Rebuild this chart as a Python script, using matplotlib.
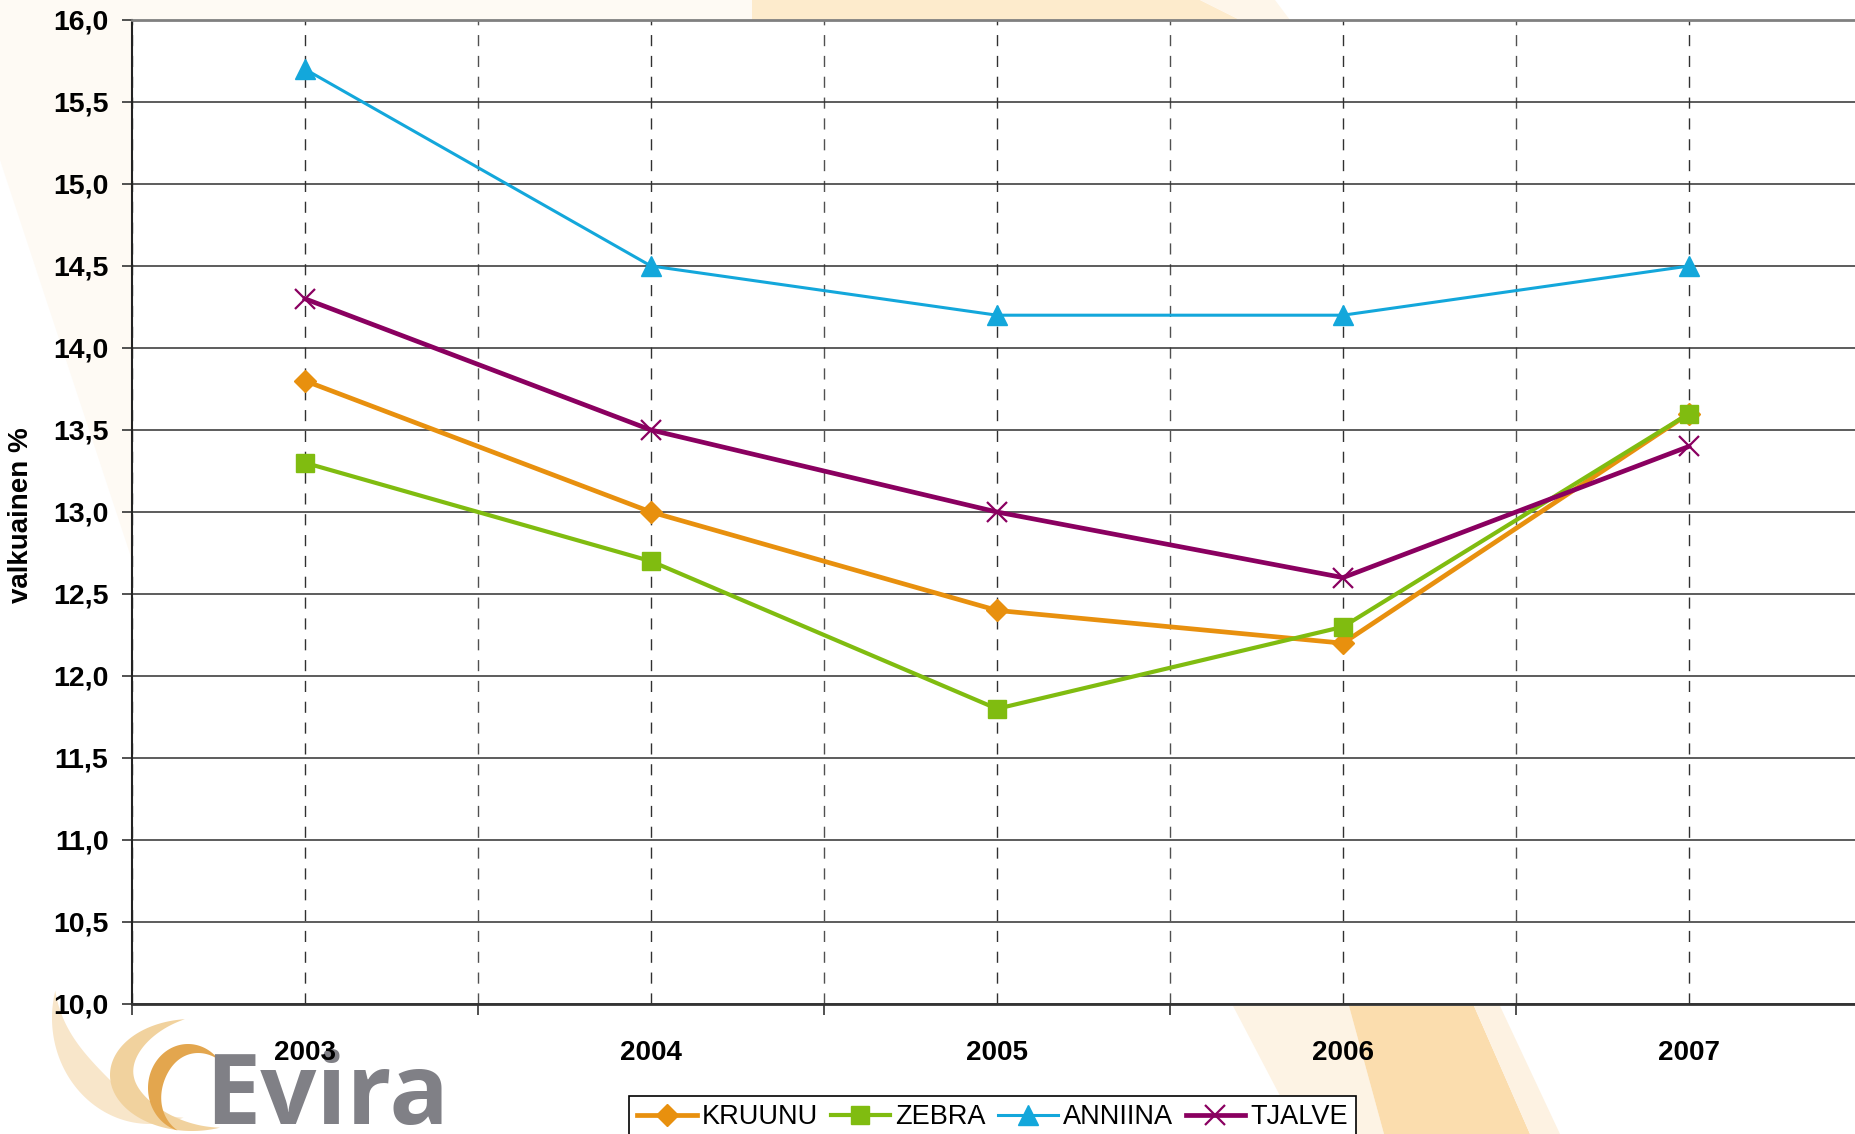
import numpy as np
import matplotlib
matplotlib.use("Agg")
import matplotlib.pyplot as plt
from matplotlib.patches import Polygon
from matplotlib.ticker import FixedLocator, FuncFormatter

plt.rcParams['font.family'] = ['Liberation Sans', 'DejaVu Sans']

# ---- data ----
years = ["2003", "2004", "2005", "2006", "2007"]
kruunu = [13.8, 13.0, 12.4, 12.2, 13.6]
zebra = [13.3, 12.7, 11.8, 12.3, 13.6]
anniina = [15.7, 14.5, 14.2, 14.2, 14.5]
tjalve = [14.3, 13.5, 13.0, 12.6, 13.4]
series_names = ["KRUUNU", "ZEBRA", "ANNIINA", "TJALVE"]
y_label = "valkuainen %"
y_ticks = [10.0, 10.5, 11.0, 11.5, 12.0, 12.5, 13.0, 13.5, 14.0, 14.5, 15.0, 15.5, 16.0]

W, H = 1856, 1134
fig = plt.figure(figsize=(W / 100, H / 100), dpi=100)
fig.patch.set_facecolor("white")

# ---- background decoration (pixel coords, y down) ----
bg = fig.add_axes([0, 0, 1, 1], zorder=0)
bg.set_xlim(0, W)
bg.set_ylim(H, 0)
bg.axis("off")
deco = [
    ([(0, 0), (760, 0), (760, 20), (132, 20), (132, 560), (0, 160)], "#FEFAF4"),
    ([(752, 0), (1200, 0), (1240, 20), (752, 20)], "#FDEBCC"),
    ([(1200, 0), (1275, 0), (1290, 20), (1240, 20)], "#FEF6EA"),
    ([(1233, 1006), (1349, 1006), (1384, H), (1300, H)], "#FDF3E4"),
    ([(1349, 1006), (1474, 1006), (1530, H), (1384, H)], "#FBDDAE"),
    ([(1474, 1006), (1500, 1006), (1560, H), (1530, H)], "#FDF2E2"),
]
for pts, col in deco:
    bg.add_patch(Polygon(pts, closed=True, facecolor=col, edgecolor="none"))


def crescent(cx, cy, rx, ry, t1, t2, th, color):
    t = np.radians(np.linspace(t1, t2, 120))
    w = th * np.sin(np.pi * (t - t[0]) / (t[-1] - t[0]))
    ox, oy = cx + rx * np.cos(t), cy - ry * np.sin(t)
    ix, iy = cx + (rx - w) * np.cos(t), cy - (ry - w) * np.sin(t)
    pts = np.column_stack([np.concatenate([ox, ix[::-1]]), np.concatenate([oy, iy[::-1]])])
    bg.add_patch(Polygon(pts, closed=True, facecolor=color, edgecolor="none"))


crescent(150, 1018, 98, 106, 165, 290, 30, "#F8E6CA")
crescent(192, 1075, 82, 56, 95, 290, 24, "#F1D29E")
crescent(188, 1088, 40, 44, 40, 255, 16, "#E3A64E")
bg.text(205, 1124, "Evira", fontsize=71, family=["Open Sans", "DejaVu Sans"],
        fontweight="bold", color="#808086", ha="left", va="baseline")

# ---- main axes ----
ax = fig.add_axes([132 / W, 1 - 1004 / H, 1730 / W, 984 / H], zorder=1)
ax.set_facecolor("white")
x = np.arange(len(years))

styles = [
    (kruunu, "#E8900E", "D", 3.4, 11, 1.0),
    (zebra, "#80BC10", "s", 3.0, 12.5, 1.0),
    (anniina, "#13A7DB", "^", 2.2, 14, 1.0),
    (tjalve, "#8A0060", "x", 3.4, 14, 1.6),
]
handles = []
for (vals, col, mk, lw, ms, mew), name in zip(styles, series_names):
    h, = ax.plot(x, vals, color=col, marker=mk, lw=lw, ms=ms, mew=mew,
                 mec=col, mfc=col, label=name, zorder=3)
    handles.append(h)

ax.set_xlim(-0.5, len(years) - 0.5)
ax.set_ylim(10, 16)
ax.set_xticks(x)
ax.set_xticklabels(years)
ax.xaxis.set_minor_locator(FixedLocator(np.arange(-0.5, len(years), 1.0)))
ax.set_yticks(y_ticks)
ax.yaxis.set_major_formatter(FuncFormatter(lambda v, p: f"{v:.1f}".replace(".", ",")))

ax.tick_params(axis="x", which="major", length=0, pad=26, labelsize=20)
ax.tick_params(axis="x", which="minor", length=8, width=1.2, color="#333333", direction="out")
ax.tick_params(axis="y", which="major", length=7, width=1.2, color="#333333",
               direction="out", pad=10, labelsize=20.5)
for lab in ax.get_xticklabels() + ax.get_yticklabels():
    lab.set_fontweight("bold")

ax.set_axisbelow(True)
ax.grid(axis="y", which="major", color="#303030", lw=1.1, ls="-")
ax.grid(axis="x", which="major", color="#303030", lw=1.0, ls=(0, (8, 7)))
ax.grid(axis="x", which="minor", color="#505050", lw=1.0, ls=(0, (8, 7)))

ax.spines["left"].set_color("#222222")
ax.spines["left"].set_linewidth(1.5)
ax.spines["bottom"].set_color("#333333")
ax.spines["bottom"].set_linewidth(2)
ax.spines["top"].set_color("#808080")
ax.spines["top"].set_linewidth(2)
ax.spines["right"].set_visible(False)

fig.text(21 / W, 1 - 515 / H, y_label, rotation=90, ha="center", va="center",
         fontsize=20, fontweight="bold")

leg = fig.legend(handles, series_names, loc="upper left",
                 bbox_to_anchor=(629 / W, 1 - 1096 / H), ncol=4, frameon=True,
                 fancybox=False, edgecolor="black", framealpha=1,
                 prop={"family": ["Liberation Sans", "DejaVu Sans"], "size": 19.5},
                 handlelength=2.2, handletextpad=0.2, columnspacing=0.45,
                 borderpad=0.3, borderaxespad=0)
leg.get_frame().set_linewidth(1.2)
leg.set_zorder(5)

fig.savefig("out.png", dpi=100)
